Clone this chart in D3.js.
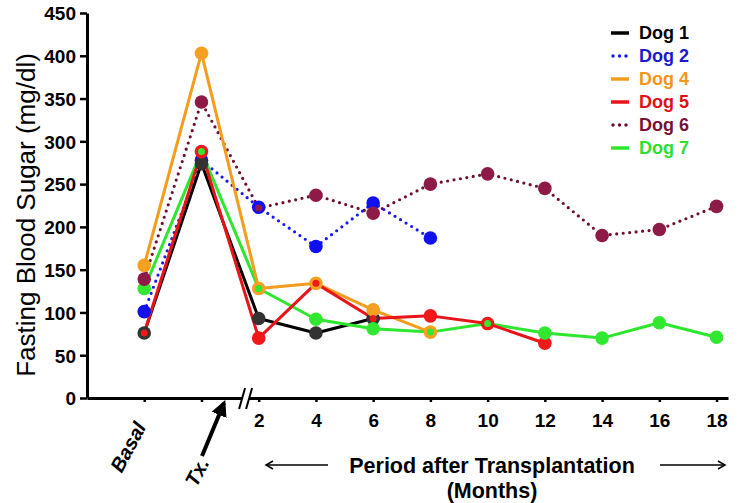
<!DOCTYPE html>
<html>
<head>
<meta charset="utf-8">
<script src="https://cdn.jsdelivr.net/npm/d3@7"></script>
<style>
  body { margin: 0; background: #fff; }
  svg { font-family: "Liberation Sans", Arial, sans-serif; }
</style>
</head>
<body>
<div id="chart"></div>
<script>
// x positions: Basal, Tx. and months after transplantation
const positions = ['Basal', 'Tx.', '2', '4', '6', '8', '10', '12', '14', '16', '18'];
const yTicks = [0, 50, 100, 150, 200, 250, 300, 350, 400, 450];

// fasting blood sugar, mg/dl, one value per position
const dog1 = [76, 274, 93, 76, 93];
const dog2 = [101, 278, 223, 177, 228, 187];
const dog4 = [155, 403, 128, 134, 103, 77];
const dog5 = [76, 288, 70, 134, 93, 96, 87, 64];
const dog6 = [139, 346, 222, 237, 216, 250, 262, 245, 190, 197, 224];
const dog7 = [128, 288, 128, 92, 81, 77, 87, 76, 70, 88, 71];

const seriesNames = ['Dog 1', 'Dog 2', 'Dog 4', 'Dog 5', 'Dog 6', 'Dog 7'];
const seriesValues = [dog1, dog2, dog4, dog5, dog6, dog7];
const lineColors = ['#000000', '#1a1aee', '#f39c1e', '#e8141a', '#6e0f30', '#2ee62e'];
const dotColors = ['#333333', '#1010f0', '#f5a020', '#f01818', '#8e1a48', '#30e830'];
const textColors = ['#000000', '#1a1acc', '#f0961c', '#e01018', '#7a1034', '#2ee02e'];
const dotted = [false, true, false, false, true, false];

const width = 744, height = 503;
const svg = d3.select('#chart').append('svg')
  .attr('width', width)
  .attr('height', height);

const x = d3.scaleLinear().domain([-1, 10.2]).range([87, 728]);
const y = d3.scaleLinear().domain([0, 450]).range([398, 13]);

const series = seriesNames.map((name, i) => ({
  name: name,
  idx: i,
  points: seriesValues[i].map((v, j) => ({pos: j, value: v}))
}));

// axes
const yAxis = svg.append('g')
  .attr('transform', 'translate(' + x(-1) + ',0)')
  .call(d3.axisLeft(y).tickValues(yTicks).tickSize(7).tickSizeOuter(0).tickPadding(4));

const xAxis = svg.append('g')
  .attr('transform', 'translate(0,' + y(0) + ')')
  .call(d3.axisBottom(x)
    .tickValues(d3.range(positions.length))
    .tickFormat(i => i >= 2 ? positions[i] : '')
    .tickSize(4).tickSizeOuter(0).tickPadding(12));

[yAxis, xAxis].forEach(g => {
  g.select('.domain').attr('stroke', '#000').attr('stroke-width', 3);
  g.selectAll('.tick line').attr('stroke', '#000').attr('stroke-width', 2.5);
  g.selectAll('.tick text')
    .attr('fill', '#000')
    .style('font-size', '19px')
    .style('font-weight', 'bold');
});
yAxis.selectAll('.tick text').attr('dy', '0.36em');

// axis break
const bx = (x(1) + x(2)) / 2 + 15;
svg.append('polygon')
  .attr('points', [[bx - 6, y(0) + 11], [bx + 1, y(0) + 11], [bx + 7, y(0) - 10], [bx, y(0) - 10]].join(' '))
  .attr('fill', '#fff');
svg.append('line').attr('x1', bx - 6).attr('y1', y(0) + 11).attr('x2', bx).attr('y2', y(0) - 10)
  .attr('stroke', '#000').attr('stroke-width', 2);
svg.append('line').attr('x1', bx + 1).attr('y1', y(0) + 11).attr('x2', bx + 7).attr('y2', y(0) - 10)
  .attr('stroke', '#000').attr('stroke-width', 2);

// lines
const line = d3.line().x(d => x(d.pos)).y(d => y(d.value));
const lineOrder = [4, 1, 0, 5, 2, 3];
svg.append('g').selectAll('path')
  .data(lineOrder.map(i => series[i]))
  .join('path')
  .attr('d', d => line(d.points))
  .attr('fill', 'none')
  .attr('stroke', d => lineColors[d.idx])
  .attr('stroke-width', d => dotted[d.idx] ? 3.2 : 3)
  .attr('stroke-linecap', d => dotted[d.idx] ? 'round' : 'butt')
  .attr('stroke-linejoin', 'round')
  .attr('stroke-dasharray', d => dotted[d.idx] ? '0 6.5' : null);

// markers; a marker that sits on an earlier one is drawn as a small centre dot
const markerOrder = [1, 0, 2, 3, 5, 4];
const drawn = [];
const markers = [];
markerOrder.forEach(i => {
  series[i].points.forEach(p => {
    const hit = drawn.some(q => q.pos === p.pos && Math.abs(q.value - p.value) < 2);
    markers.push({pos: p.pos, value: p.value, idx: i, r: hit ? 3.5 : 6.8});
    drawn.push(p);
  });
});
svg.append('g').selectAll('circle')
  .data(markers)
  .join('circle')
  .attr('cx', d => x(d.pos))
  .attr('cy', d => y(d.value))
  .attr('r', d => d.r)
  .attr('fill', d => dotColors[d.idx]);

// Tx arrow
svg.append('defs').append('marker')
  .attr('id', 'head')
  .attr('viewBox', '0 0 10 10')
  .attr('refX', 8).attr('refY', 5)
  .attr('markerWidth', 4).attr('markerHeight', 4)
  .attr('orient', 'auto')
  .append('path').attr('d', 'M0,0 L10,5 L0,10 Z').attr('fill', '#000');
svg.append('line')
  .attr('x1', 202).attr('y1', 456)
  .attr('x2', 224).attr('y2', 403)
  .attr('stroke', '#000').attr('stroke-width', 4)
  .attr('marker-end', 'url(#head)');

// rotated category labels
[[0, 128, 447], [1, 197, 472]].forEach(([i, cx, cy]) => {
  svg.append('text')
    .attr('transform', 'translate(' + cx + ',' + cy + ') rotate(-62)')
    .attr('text-anchor', 'middle')
    .attr('dy', '0.35em')
    .style('font-size', '20px')
    .style('font-weight', 'bold')
    .style('font-style', 'italic')
    .text(positions[i]);
});

// y axis title
svg.append('text')
  .attr('transform', 'translate(26,215) rotate(-90)')
  .attr('text-anchor', 'middle')
  .attr('dy', '0.35em')
  .style('font-size', '26px')
  .text('Fasting Blood Sugar (mg/dl)');

// x axis title with arrows
svg.append('text')
  .attr('x', 492).attr('y', 465).attr('dy', '0.35em')
  .attr('text-anchor', 'middle')
  .style('font-size', '21.5px').style('font-weight', 'bold')
  .text('Period after Transplantation');
svg.append('text')
  .attr('x', 492).attr('y', 490).attr('dy', '0.35em')
  .attr('text-anchor', 'middle')
  .style('font-size', '21.5px').style('font-weight', 'bold')
  .text('(Months)');
[[328, 266], [660, 725]].forEach(([x1, x2]) => {
  svg.append('line')
    .attr('x1', x1).attr('y1', 465).attr('x2', x2).attr('y2', 465)
    .attr('stroke', '#000').attr('stroke-width', 1.5);
  const dir = x2 > x1 ? 1 : -1;
  svg.append('path')
    .attr('d', 'M' + (x2 - dir * 7) + ',461 L' + x2 + ',465 L' + (x2 - dir * 7) + ',469')
    .attr('fill', 'none').attr('stroke', '#000').attr('stroke-width', 1.5);
});

// legend
const legend = svg.append('g').attr('transform', 'translate(611,33)');
const row = legend.selectAll('g')
  .data(series)
  .join('g')
  .attr('transform', (d, i) => 'translate(0,' + i * 23 + ')');
row.append('line')
  .attr('x1', d => dotted[d.idx] ? 2 : 0).attr('x2', 18)
  .attr('stroke', d => lineColors[d.idx])
  .attr('stroke-width', 3.5)
  .attr('stroke-linecap', d => dotted[d.idx] ? 'round' : 'butt')
  .attr('stroke-dasharray', d => dotted[d.idx] ? '0 6.5' : null);
row.append('text')
  .attr('x', 28).attr('dy', '0.35em')
  .style('font-size', '18px').style('font-weight', 'bold')
  .attr('fill', d => textColors[d.idx])
  .text(d => d.name);
</script>
</body>
</html>
